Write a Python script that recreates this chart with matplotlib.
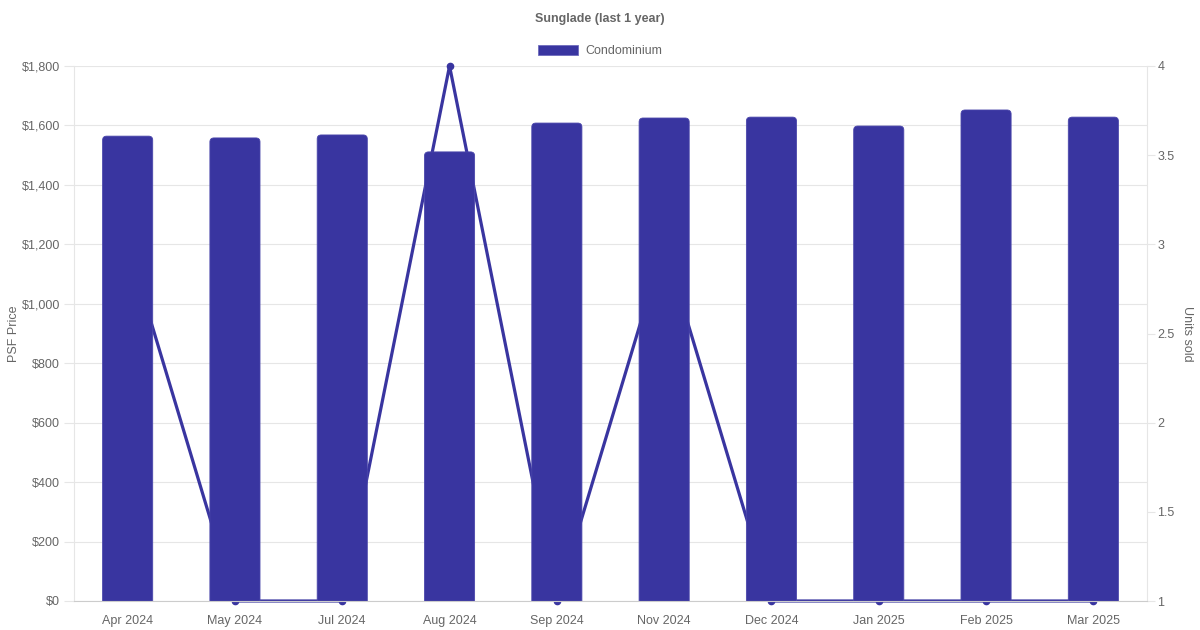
import numpy as np
import matplotlib
matplotlib.use("Agg")
import matplotlib.pyplot as plt
from matplotlib.patches import FancyBboxPatch, Patch
from matplotlib.ticker import FuncFormatter

plt.rcParams["font.family"] = ["Liberation Sans", "DejaVu Sans"]

# data
months = ["Apr 2024", "May 2024", "Jul 2024", "Aug 2024", "Sep 2024",
          "Nov 2024", "Dec 2024", "Jan 2025", "Feb 2025", "Mar 2025"]
psf_price = [1564, 1558, 1568, 1511, 1608, 1625, 1628, 1598, 1652, 1628]
units_sold = [3, 1, 1, 4, 1, 3, 1, 1, 1, 1]
psf_ticks = [0, 200, 400, 600, 800, 1000, 1200, 1400, 1600, 1800]
unit_ticks = [1, 1.5, 2, 2.5, 3, 3.5, 4]

bar_color = "#3935a0"
grid_color = "#e6e6e6"
text_color = "#666666"

fig = plt.figure(figsize=(12, 6.3), dpi=100, facecolor="white")
rect = [74 / 1200, 29 / 630, (1147 - 74) / 1200, (601 - 66) / 630]
x = np.arange(len(months))

# background axes: grid only
ax_bg = fig.add_axes(rect, zorder=0)
ax_bg.set_xlim(-0.5, len(months) - 0.5)
ax_bg.set_ylim(0, 1800)
ax_bg.set_yticks(psf_ticks)
ax_bg.set_xticks([])
ax_bg.yaxis.grid(True, color=grid_color, linewidth=0.8)
ax_bg.tick_params(left=False, labelleft=False)
for s in ax_bg.spines.values():
    s.set_visible(False)

# middle axes: units sold line (behind the bars)
ax2 = fig.add_axes(rect, zorder=1)
ax2.patch.set_visible(False)
ax2.plot(x, units_sold, color=bar_color, linewidth=2.3, marker="o",
         markersize=4.5, clip_on=False)
ax2.set_xlim(-0.5, len(months) - 0.5)
ax2.set_ylim(1, 4)
ax2.set_yticks(unit_ticks)
ax2.set_yticklabels(["%g" % t for t in unit_ticks])
ax2.yaxis.tick_right()
ax2.yaxis.set_label_position("right")
ax2.set_xticks([])
ax2.tick_params(axis="y", colors=grid_color, labelcolor=text_color,
                labelsize=9, length=6, width=0.8, pad=1.5)
ax2.set_ylabel("Units sold", color=text_color, fontsize=9, rotation=-90,
               labelpad=13)
for name, s in ax2.spines.items():
    s.set_visible(name == "right")
    s.set_color(grid_color)
    s.set_linewidth(0.8)

# front axes: price bars
ax = fig.add_axes(rect, zorder=2)
ax.patch.set_visible(False)
bars = ax.bar(x, psf_price, width=0.467)
ax.set_xlim(-0.5, len(months) - 0.5)
ax.set_ylim(0, 1800)
# rounded top corners: 4 px in both directions
px_x = (len(months)) / (1147 - 74)
px_y = 1800 / (601 - 66)
for b in bars:
    b.set_visible(False)
    fb = FancyBboxPatch((b.get_x(), -30), b.get_width(), b.get_height() + 30,
                        boxstyle="round,pad=0,rounding_size=%f" % (4 * px_x),
                        mutation_aspect=px_y / px_x,
                        facecolor=bar_color, edgecolor="#4a46ab",
                        linewidth=0.6)
    ax.add_patch(fb)
ax.set_yticks(psf_ticks)
ax.yaxis.set_major_formatter(FuncFormatter(lambda v, p: "${:,.0f}".format(v)))
ax.set_xticks(x)
ax.set_xticklabels(months)
ax.tick_params(axis="y", colors=grid_color, labelcolor=text_color,
               labelsize=9, length=7, width=0.8, pad=3)
ax.tick_params(axis="x", length=0, labelcolor=text_color, labelsize=9, pad=10)
ax.set_ylabel("PSF Price", color=text_color, fontsize=9, labelpad=1.5)
for name, s in ax.spines.items():
    s.set_visible(name in ("left", "bottom"))
    s.set_linewidth(0.8)
ax.spines["left"].set_color(grid_color)
ax.spines["bottom"].set_color("#cccccc")

fig.text(0.5, 1 - 19 / 630, "Sunglade (last 1 year)", ha="center",
         va="center", fontsize=9, fontweight="bold", color=text_color)
fig.legend(handles=[Patch(facecolor=bar_color, edgecolor="#6e6bbd",
                          linewidth=0.6, label="Condominium")],
           loc="center", bbox_to_anchor=(0.5, 1 - 51 / 630), frameon=False,
           fontsize=9, labelcolor=text_color, handlelength=3.2,
           handleheight=0.95, handletextpad=0.6)

fig.savefig("out.png", dpi=100, facecolor="white")
